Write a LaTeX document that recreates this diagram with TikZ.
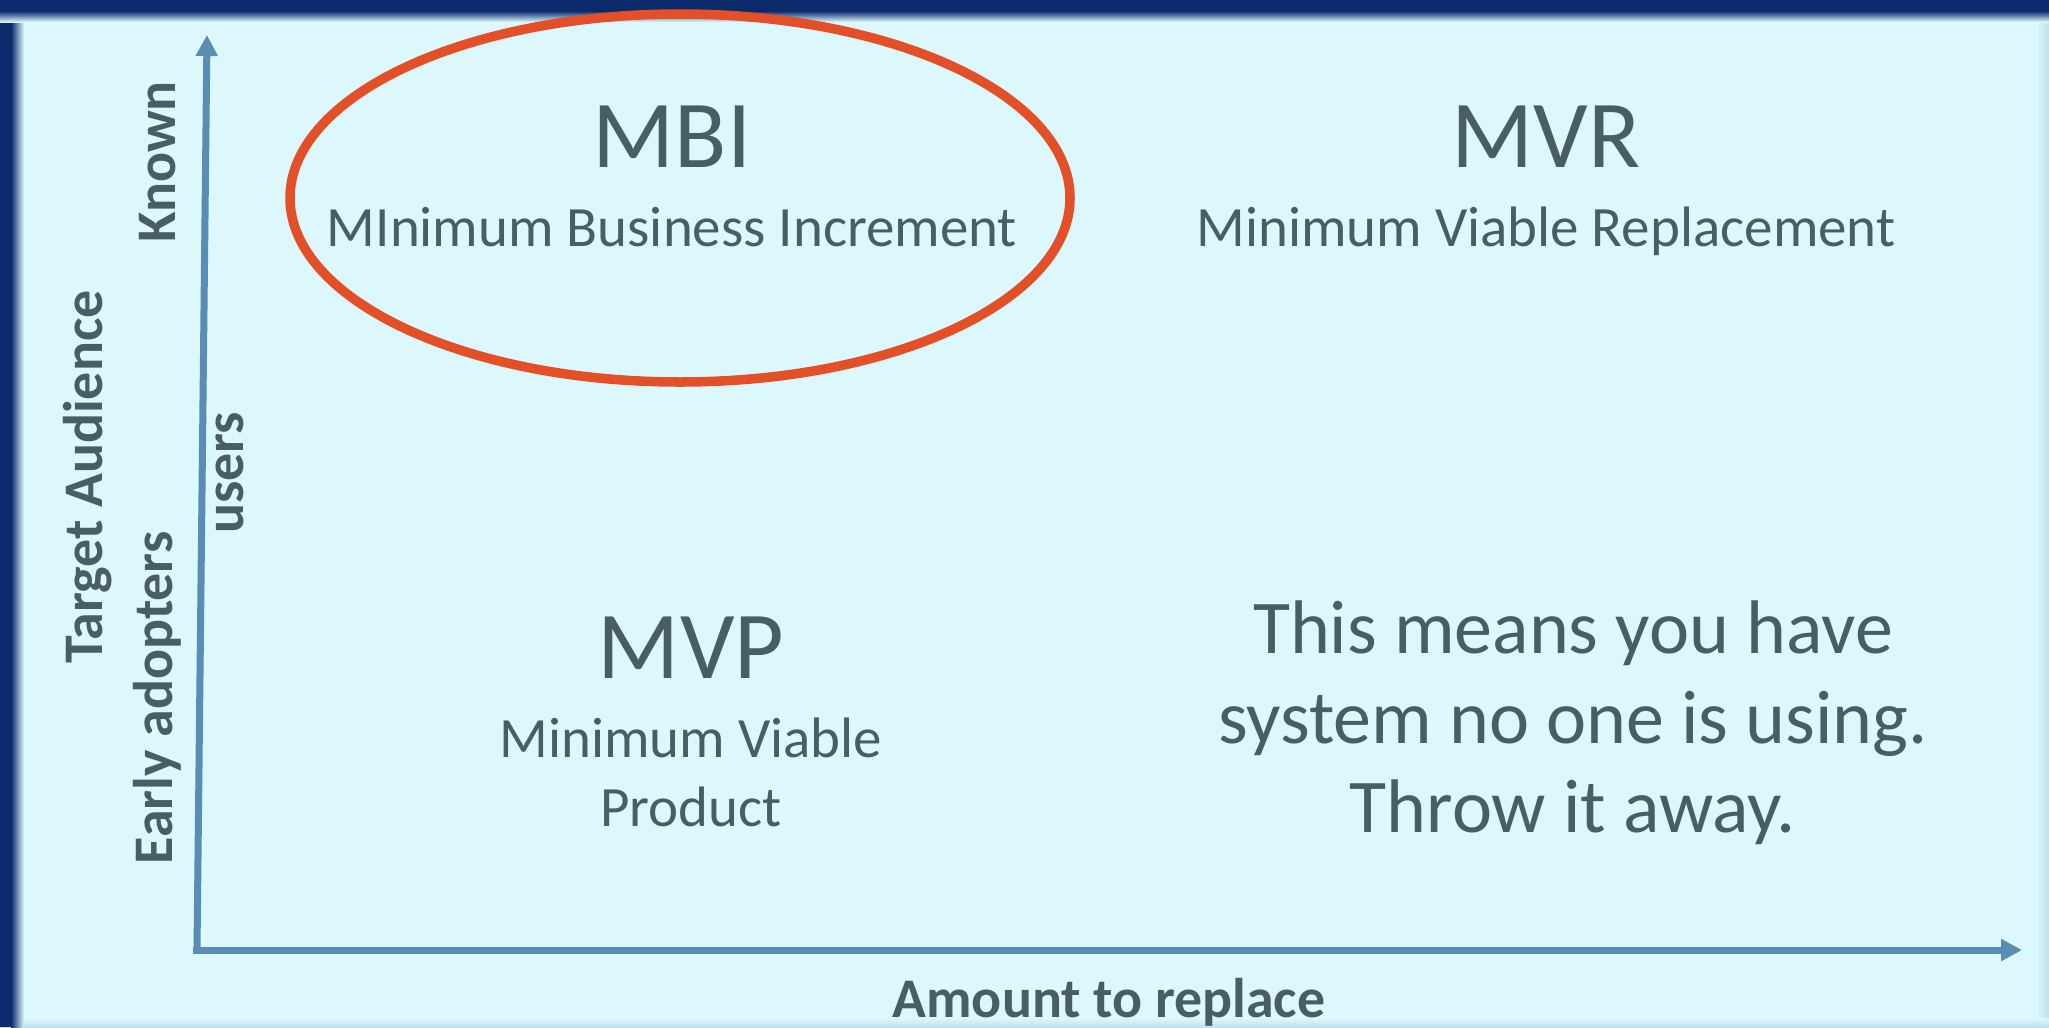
\documentclass[tikz,border=0pt]{standalone}
\usepackage{fontspec}
\setmainfont{Carlito}
\usetikzlibrary{arrows.meta}
\definecolor{bgc}{HTML}{DDF8FD}
\definecolor{navy}{HTML}{0B2A6C}
\definecolor{txt}{HTML}{475E63}
\definecolor{axisc}{HTML}{5A8DB4}
\definecolor{ring}{HTML}{E34F26}
\definecolor{edgec}{HTML}{BFE1EB}
\tikzset{
  bigt/.style={text=txt, inner sep=0pt, anchor=base, font=\fontsize{27.3}{32}\selectfont},
  subt/.style={text=txt, inner sep=0pt, anchor=base, font=\fontsize{16.2}{19.6}\selectfont},
  midt/.style={text=txt, inner sep=0pt, anchor=base, font=\fontsize{21.6}{25.5}\selectfont},
  axlab/.style={text=txt, inner sep=0pt, anchor=base, font=\bfseries\fontsize{15.9}{19}\selectfont},
  axline/.style={draw=axisc, line width=0.7mm, -{Triangle[length=2.1mm,width=2.1mm]}},
}
\begin{document}
\begin{tikzpicture}[x=0.01cm,y=-0.01cm]
\useasboundingbox (0,0) rectangle (2049,1027);
% background and frame
\fill[bgc] (0,0) rectangle (2049,1027);
\shade[left color=bgc, right color=edgec] (2036,0) rectangle (2049,1027);
\shade[top color=bgc, bottom color=edgec] (0,1018) rectangle (2049,1027);
\fill[navy] (0,0) rectangle (11,1027);
\shade[left color=navy, right color=bgc] (11,0) rectangle (24,1027);
\fill[navy] (0,0) rectangle (2049,11);
\shade[top color=navy, bottom color=bgc] (0,11) rectangle (2049,22);
% axes
\coordinate (orig) at (193,950);
\coordinate (ybot) at (197,950);
\coordinate (ytop) at (207,35);
\coordinate (xend) at (2022,950);
\draw[axline] (ybot) -- (ytop);
\draw[axline] (orig) -- (xend);
% highlight ring
\draw[ring, line width=0.95mm] (680,198) ellipse [x radius=390, y radius=184];
% quadrant texts
\node[bigt] (mbi) at (672,167) {MBI};
\node[subt] (mbisub) at (672,246) {MInimum Business Increment};
\node[bigt] (mvr) at (1546,167) {MVR};
\node[subt] (mvrsub) at (1546,246) {Minimum Viable Replacement};
\node[bigt] (mvp) at (691,678) {MVP};
\node[subt] (mvpsub1) at (691,757) {Minimum Viable};
\node[subt] (mvpsub2) at (691,826) {Product};
\node[midt] (note1) at (1573,653) {This means you have};
\node[midt] (note2) at (1573,743) {system no one is using.};
\node[midt] (note3) at (1573,832) {Throw it away.};
% axis labels
\node[axlab] (xlab) at (1109,1017) {Amount to replace};
\node[axlab, rotate=90] (known) at (175,162) {Known};
\node[axlab, rotate=90] (target) at (102,477) {Target Audience};
\node[axlab, rotate=90] (early) at (172,698) {Early adopters};
\node[axlab, rotate=90] (users) at (243,473) {users};
\end{tikzpicture}
\end{document}
